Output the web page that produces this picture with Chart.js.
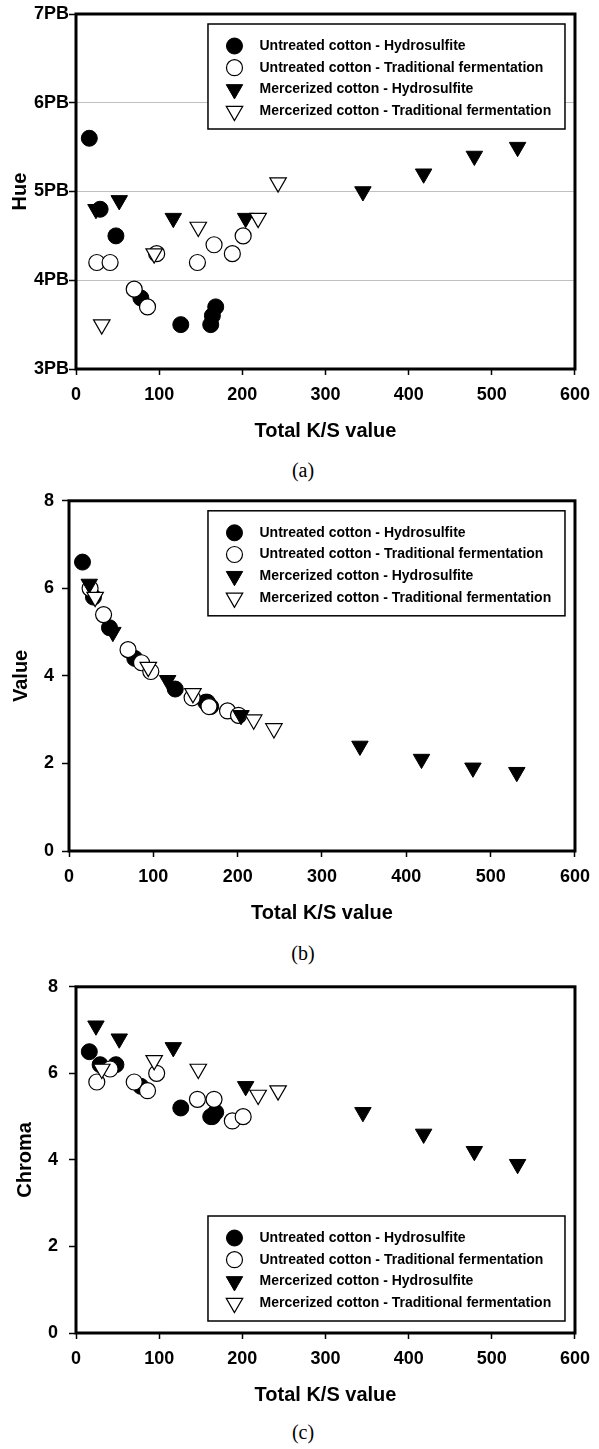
<!DOCTYPE html>
<html>
<head>
<meta charset="utf-8">
<script src="https://cdn.jsdelivr.net/npm/chart.js@4/dist/chart.umd.min.js"></script>
<style>
    body { margin: 0; background: #fff; }
    #khung { position: relative; width: 599px; height: 1449px; }
    .o-bieu-do { position: absolute; left: 0; }
    .chu-thich-hinh {
        position: absolute; left: 0; width: 606px; text-align: center;
        font-family: "Liberation Serif", "Times New Roman", serif;
        font-size: 20px; line-height: 20px; color: #000;
    }
</style>
</head>
<body>
<div id="khung">
    <canvas id="bieuDoHue" class="o-bieu-do" width="599" height="450" style="top:0px"></canvas>
    <div class="chu-thich-hinh" style="top:460px">(a)</div>
    <canvas id="bieuDoValue" class="o-bieu-do" width="599" height="450" style="top:482px"></canvas>
    <div class="chu-thich-hinh" style="top:943px">(b)</div>
    <canvas id="bieuDoChroma" class="o-bieu-do" width="599" height="449" style="top:965px"></canvas>
    <div class="chu-thich-hinh" style="top:1422px">(c)</div>
</div>
<script>
// ten nhom mau
const tenNhom = [
    'Untreated cotton - Hydrosulfite',
    'Untreated cotton - Traditional fermentation',
    'Mercerized cotton - Hydrosulfite',
    'Mercerized cotton - Traditional fermentation'
];

// Untreated - Hydrosulfite
const ksThuongHydro = [16, 29, 48, 78, 126, 162, 164, 168];
const hueThuongHydro = [5.6, 4.8, 4.5, 3.8, 3.5, 3.5, 3.6, 3.7];
const valueThuongHydro = [6.6, 5.8, 5.1, 4.4, 3.7, 3.4, 3.4, 3.3];
const chromaThuongHydro = [6.5, 6.2, 6.2, 5.7, 5.2, 5.0, 5.0, 5.1];

// Untreated - Traditional fermentation
const ksThuongLenMen = [25, 41, 70, 86, 97, 146, 166, 188, 201];
const hueThuongLenMen = [4.2, 4.2, 3.9, 3.7, 4.3, 4.2, 4.4, 4.3, 4.5];
const valueThuongLenMen = [6.0, 5.4, 4.6, 4.3, 4.1, 3.5, 3.3, 3.2, 3.1];
const chromaThuongLenMen = [5.8, 6.1, 5.8, 5.6, 6.0, 5.4, 5.4, 4.9, 5.0];

// Mercerized - Hydrosulfite
const ksBongHydro = [24, 52, 117, 204, 345, 418, 479, 531];
const hueBongHydro = [4.8, 4.9, 4.7, 4.7, 5.0, 5.2, 5.4, 5.5];
const valueBongHydro = [6.1, 5.0, 3.9, 3.1, 2.4, 2.1, 1.9, 1.8];
const chromaBongHydro = [7.1, 6.8, 6.6, 5.7, 5.1, 4.6, 4.2, 3.9];

// Mercerized - Traditional fermentation
const ksBongLenMen = [31, 94, 147, 219, 243];
const hueBongLenMen = [3.5, 4.3, 4.6, 4.7, 5.1];
const valueBongLenMen = [5.8, 4.2, 3.6, 3.0, 2.8];
const chromaBongLenMen = [6.1, 6.3, 6.1, 5.5, 5.6];

// nhan truc
const nhanTrucHue = ['3PB', '4PB', '5PB', '6PB', '7PB'];
const nhanTrucX = ['0', '100', '200', '300', '400', '500', '600'];

const FONT_CHU = 'Arial, "Liberation Sans", sans-serif';

// kieu diem cho tung nhom
const kieuDiem = [
    { pointStyle: 'circle', pointRotation: 0, pointRadius: 8, pointBackgroundColor: '#000', pointBorderColor: '#000', pointBorderWidth: 1 },
    { pointStyle: 'circle', pointRotation: 0, pointRadius: 8, pointBackgroundColor: '#fff', pointBorderColor: '#000', pointBorderWidth: 1.2 },
    { pointStyle: 'triangle', pointRotation: 180, pointRadius: 9.5, pointBackgroundColor: '#000', pointBorderColor: '#000', pointBorderWidth: 1 },
    { pointStyle: 'triangle', pointRotation: 180, pointRadius: 9.5, pointBackgroundColor: '#fff', pointBorderColor: '#000', pointBorderWidth: 1.2 }
];

function GhepDiem(xs, ys) {
    return xs.map((x, i) => ({ x: x, y: ys[i] }));
}

// khung den quanh vung ve
const khungVien = {
    id: 'khungVien',
    afterDraw(chart) {
        const { ctx, chartArea } = chart;
        ctx.save();
        ctx.lineWidth = 3;
        ctx.strokeStyle = '#000';
        ctx.strokeRect(chartArea.left, chartArea.top, chartArea.right - chartArea.left, chartArea.bottom - chartArea.top);
        ctx.restore();
    }
};

// hop chu thich ve tay ben trong vung ve
const hopChuThich = {
    id: 'hopChuThich',
    afterDraw(chart, args, opts) {
        const { ctx, chartArea } = chart;
        const w = 357, h = 105;
        const x0 = chartArea.right - 10 - w;
        const y0 = opts.duoi ? chartArea.bottom - 12 - h : chartArea.top + 10;
        ctx.save();
        ctx.fillStyle = '#fff';
        ctx.fillRect(x0, y0, w, h);
        ctx.lineWidth = 1.5;
        ctx.strokeStyle = '#000';
        ctx.strokeRect(x0, y0, w, h);
        ctx.font = 'bold 14px ' + FONT_CHU;
        ctx.textBaseline = 'middle';
        chart.data.datasets.forEach((ds, i) => {
            const y = y0 + 22 + i * 21.7;
            ctx.fillStyle = ds.pointBackgroundColor;
            ctx.strokeStyle = ds.pointBorderColor;
            ctx.lineWidth = ds.pointBorderWidth;
            Chart.helpers.drawPoint(ctx, {
                pointStyle: ds.pointStyle,
                rotation: ds.pointRotation,
                radius: ds.pointRadius,
                borderWidth: ds.pointBorderWidth
            }, x0 + 26.5, y);
            ctx.fillStyle = '#000';
            ctx.fillText(ds.label, x0 + 51.5, y);
        });
        ctx.restore();
    }
};

function TaoBieuDo(canvasId, cacDuLieu, cauHinhY) {
    const datasets = cacDuLieu.map((d, i) => Object.assign({
        label: tenNhom[i],
        data: d,
        order: 4 - i
    }, kieuDiem[i]));

    return new Chart(document.getElementById(canvasId), {
        type: 'scatter',
        data: { datasets: datasets },
        plugins: [khungVien, hopChuThich],
        options: {
            responsive: false,
            animation: false,
            events: [],
            layout: { padding: { top: 14, right: 20, bottom: 0, left: 0 } },
            plugins: {
                legend: { display: false },
                tooltip: { enabled: false },
                hopChuThich: { duoi: cauHinhY.chuThichDuoi }
            },
            scales: {
                x: {
                    type: 'linear',
                    min: 0, max: 600,
                    afterFit: (s) => { s.height = 81; },
                    ticks: {
                        stepSize: 100,
                        padding: 9,
                        color: '#000',
                        font: { family: FONT_CHU, size: 18, weight: 'bold' },
                        callback: (v) => nhanTrucX[v / 100]
                    },
                    grid: { drawOnChartArea: false, drawTicks: true, tickLength: 6, tickColor: '#000', tickWidth: 1.5 },
                    border: { display: false },
                    title: {
                        display: true,
                        text: 'Total K/S value',
                        color: '#000',
                        padding: { top: 0, bottom: 7 },
                        font: { family: FONT_CHU, size: 20, weight: 'bold' }
                    }
                },
                y: {
                    type: 'linear',
                    min: cauHinhY.min, max: cauHinhY.max,
                    afterFit: (s) => { s.width = cauHinhY.rongTruc; },
                    ticks: {
                        stepSize: cauHinhY.buoc,
                        padding: cauHinhY.dem,
                        color: '#000',
                        font: { family: FONT_CHU, size: 18, weight: 'bold' },
                        callback: cauHinhY.nhan
                    },
                    grid: {
                        drawOnChartArea: cauHinhY.luoi,
                        color: (c) => (c.tick && (c.tick.value === cauHinhY.min || c.tick.value === cauHinhY.max)) ? 'rgba(0,0,0,0)' : '#c0c0c0',
                        lineWidth: 1,
                        drawTicks: true,
                        tickLength: 7,
                        tickColor: '#000',
                        tickWidth: 1.5
                    },
                    border: { display: false },
                    title: {
                        display: true,
                        text: cauHinhY.tieuDe,
                        color: '#000',
                        padding: { top: cauHinhY.demTieuDe, bottom: 0 },
                        font: { family: FONT_CHU, size: 20, weight: 'bold' }
                    }
                }
            }
        }
    });
}

TaoBieuDo('bieuDoHue', [
    GhepDiem(ksThuongHydro, hueThuongHydro),
    GhepDiem(ksThuongLenMen, hueThuongLenMen),
    GhepDiem(ksBongHydro, hueBongHydro),
    GhepDiem(ksBongLenMen, hueBongLenMen)
], {
    min: 3, max: 7, buoc: 1, rongTruc: 76, dem: 0, demTieuDe: 8, luoi: true,
    tieuDe: 'Hue', chuThichDuoi: false,
    nhan: (v) => nhanTrucHue[v - 3]
});

TaoBieuDo('bieuDoValue', [
    GhepDiem(ksThuongHydro, valueThuongHydro),
    GhepDiem(ksThuongLenMen, valueThuongLenMen),
    GhepDiem(ksBongHydro, valueBongHydro),
    GhepDiem(ksBongLenMen, valueBongLenMen)
], {
    min: 0, max: 8, buoc: 2, rongTruc: 69, dem: 8, demTieuDe: 9, luoi: false,
    tieuDe: 'Value', chuThichDuoi: false,
    nhan: (v) => String(v)
});

TaoBieuDo('bieuDoChroma', [
    GhepDiem(ksThuongHydro, chromaThuongHydro),
    GhepDiem(ksThuongLenMen, chromaThuongLenMen),
    GhepDiem(ksBongHydro, chromaBongHydro),
    GhepDiem(ksBongLenMen, chromaBongLenMen)
], {
    min: 0, max: 8, buoc: 2, rongTruc: 76, dem: 11, demTieuDe: 13, luoi: false,
    tieuDe: 'Chroma', chuThichDuoi: true,
    nhan: (v) => String(v)
});
</script>
</body>
</html>
